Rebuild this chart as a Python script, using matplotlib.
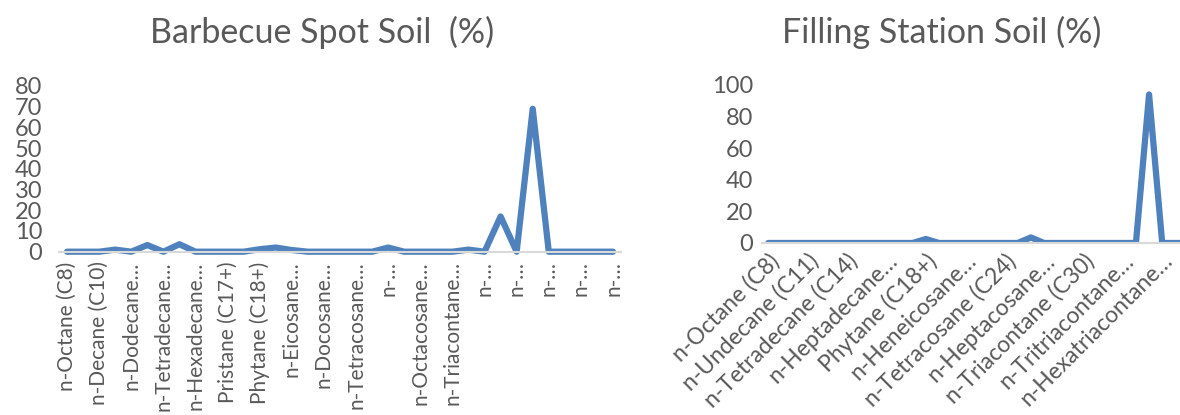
import matplotlib
matplotlib.use("Agg")
import matplotlib.pyplot as plt

plt.rcParams['font.family'] = ['Lato', 'DejaVu Sans']

# 35 hydrocarbon fractions, C8 .. C40 (with pristane / phytane)
compounds = ['n-Octane (C8)', 'n-Nonane (C9)', 'n-Decane (C10)', 'n-Undecane (C11)',
             'n-Dodecane (C12)', 'n-Tridecane (C13)', 'n-Tetradecane (C14)',
             'n-Pentadecane (C15)', 'n-Hexadecane (C16)', 'n-Heptadecane (C17)',
             'Pristane (C17+)', 'n-Octadecane (C18)', 'Phytane (C18+)',
             'n-Nonadecane (C19)', 'n-Eicosane (C20)', 'n-Heneicosane (C21)',
             'n-Docosane (C22)', 'n-Tricosane (C23)', 'n-Tetracosane (C24)',
             'n-Pentacosane (C25)', 'n-Hexacosane (C26)', 'n-Heptacosane (C27)',
             'n-Octacosane (C28)', 'n-Nonacosane (C29)', 'n-Triacontane (C30)',
             'n-Hentriacontane (C31)', 'n-Dotriacontane (C32)',
             'n-Tritriacontane (C33)', 'n-Tetratriacontane (C34)',
             'n-Pentatriacontane (C35)', 'n-Hexatriacontane (C36)',
             'n-Heptatriacontane (C37)', 'n-Octatriacontane (C38)',
             'n-Nonatriacontane (C39)', 'n-Tetracontane (C40)']

barbecue = [0, 0, 0, 1, 0, 3.2, 0, 3.6, 0, 0, 0, 0, 1.2, 2, 0.8, 0, 0, 0, 0, 0,
            2, 0, 0, 0, 0, 1, 0, 17, 0, 69, 0, 0, 0, 0, 0]
filling = [0, 0, 0, 0, 0, 0, 0, 0, 0, 0, 0, 0, 2.5, 0, 0, 0, 0, 0, 0, 0,
           3.5, 0, 0, 0, 0, 0, 0, 0, 0, 94, 0, 0, 0, 0, 0]

# tick labels as shown (Excel truncates long ones)
left_labels = ['n-Octane (C8)', 'n-Decane (C10)', 'n-Dodecane…', 'n-Tetradecane…',
               'n-Hexadecane…', 'Pristane (C17+)', 'Phytane (C18+)', 'n-Eicosane…',
               'n-Docosane…', 'n-Tetracosane…', 'n-…', 'n-Octacosane…',
               'n-Triacontane…', 'n-…', 'n-…', 'n-…', 'n-…', 'n-…']
right_labels = ['n-Octane (C8)', 'n-Undecane (C11)', 'n-Tetradecane (C14)',
                'n-Heptadecane…', 'Phytane (C18+)', 'n-Heneicosane…',
                'n-Tetracosane (C24)', 'n-Heptacosane…', 'n-Triacontane (C30)',
                'n-Tritriacontane…', 'n-Hexatriacontane…']

blue = '#4f81bd'
grey = '#595959'

fig = plt.figure(figsize=(11.8, 4.15), dpi=100)
ax1 = fig.add_axes([0.05, 0.3935, 0.4763, 0.3993])
ax2 = fig.add_axes([0.6455, 0.4145, 0.3895, 0.3807])

x = list(range(len(compounds)))


def style(ax, ymax, ystep, ypad):
    for s in ['top', 'right', 'left']:
        ax.spines[s].set_visible(False)
    ax.spines['bottom'].set_color('#d9d9d9')
    ax.spines['bottom'].set_linewidth(1.5)
    ax.set_xlim(-0.5, len(compounds) - 0.5)
    ax.set_ylim(0, ymax)
    ax.set_yticks(range(0, ymax + 1, ystep))
    ax.tick_params(length=0, labelcolor=grey)
    ax.tick_params(axis='y', pad=ypad, labelsize=17)


ax1.plot(x, barbecue, color=blue, lw=4.5, solid_joinstyle='round',
         solid_capstyle='round', clip_on=False)
style(ax1, 80, 10, 12)
ax1.set_xticks(x[::2])
ax1.set_xticklabels(left_labels, rotation=90, va='top', ha='center')
ax1.tick_params(axis='x', pad=7, labelsize=15)

ax2.plot(x, filling, color=blue, lw=4.5, solid_joinstyle='round',
         solid_capstyle='round')
style(ax2, 100, 20, 6)
ax2.set_xticks(x[:31:3])
ax2.set_xticklabels(right_labels, rotation=45, ha='right', va='top',
                    rotation_mode='anchor')
ax2.tick_params(axis='x', pad=5, labelsize=16.5)

fig.text(322 / 1180, 1 - 32 / 415, 'Barbecue Spot Soil  (%)', ha='center',
         va='center', fontsize=24.5, color=grey)
fig.text(942 / 1180, 1 - 32 / 415, 'Filling Station Soil (%)', ha='center',
         va='center', fontsize=24.5, color=grey)

fig.savefig('out.png', dpi=100)
